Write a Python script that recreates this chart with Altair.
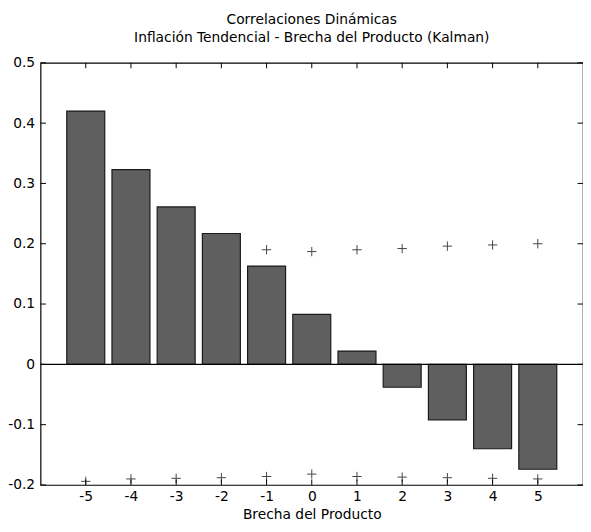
import altair as alt
import pandas as pd

# ---- data ----
lags = [-5, -4, -3, -2, -1, 0, 1, 2, 3, 4, 5]
corr = [0.420, 0.323, 0.261, 0.217, 0.163, 0.083, 0.022, -0.038, -0.092, -0.140, -0.174]
upper_lags = [-1, 0, 1, 2, 3, 4, 5]
upper_band = [0.190, 0.187, 0.190, 0.192, 0.196, 0.198, 0.200]
lower_band = [-0.194, -0.190, -0.189, -0.188, -0.186, -0.182, -0.186, -0.187, -0.188, -0.189, -0.190]
y_ticks = [-0.2, -0.1, 0.0, 0.1, 0.2, 0.3, 0.4, 0.5]

title_lines = ["Correlaciones Dinámicas",
               "Inflación Tendencial - Brecha del Producto (Kalman)"]
x_title = "Brecha del Producto"

FONT = "DejaVu Sans"
xs = alt.Scale(domain=[-6, 6], nice=False, zero=False)
ys = alt.Scale(domain=[-0.2, 0.5], nice=False, zero=False)

xaxis = alt.Axis(values=lags, format="d", title=x_title, ticks=False,
                 domain=False, grid=False, labelFontSize=14,
                 labelExpr="replace(datum.label, '\u2212', '-')",
                 labelPadding=5, titleFontSize=14, titleFontWeight="normal",
                 titlePadding=4, labelColor="black",
                 titleColor="black", labelFont=FONT, titleFont=FONT)
yaxis = alt.Axis(values=y_ticks, format=".1~f", title="", ticks=False,
                 domain=False, grid=False, labelFontSize=14,
                 labelExpr="replace(datum.label, '\u2212', '-')",
                 labelPadding=6, labelColor="black", labelFont=FONT)

bars_df = pd.DataFrame({"lag": lags, "corr": corr})
band_df = pd.concat([
    pd.DataFrame({"lag": upper_lags, "v": upper_band}),
    pd.DataFrame({"lag": lags, "v": lower_band}),
])

bars = alt.Chart(bars_df).transform_calculate(
    lo="datum.lag - 0.42", hi="datum.lag + 0.42", zero="0"
).mark_bar(color="#5f5f5f", stroke="#1a1a1a", strokeWidth=1.2).encode(
    x=alt.X("lo:Q", scale=xs, axis=xaxis, title=x_title),
    x2="hi:Q",
    y=alt.Y("zero:Q", scale=ys, axis=yaxis, title=""),
    y2="corr:Q",
)

zero_line = alt.Chart(pd.DataFrame({"v": [0.0]})).mark_rule(
    color="black", strokeWidth=1.2
).encode(y=alt.Y("v:Q", scale=ys, axis=yaxis, title=""))

markers = alt.Chart(band_df).mark_point(
    shape="M-1,0L1,0M0,-1L0,1", size=90, filled=False,
    stroke="#444444", strokeWidth=1, opacity=1
).encode(
    x=alt.X("lag:Q", scale=xs, axis=xaxis, title=x_title),
    y=alt.Y("v:Q", scale=ys, axis=yaxis, title=""),
)

# inward tick marks on all four sides
top_df = pd.DataFrame({"t": lags, "a": 0.5, "b": 0.5 - 0.009})
bot_df = pd.DataFrame({"t": lags, "a": -0.2, "b": -0.2 + 0.009})
left_df = pd.DataFrame({"t": y_ticks, "a": -6.0, "b": -6.0 + 0.12})
right_df = pd.DataFrame({"t": y_ticks, "a": 6.0, "b": 6.0 - 0.12})

def xticks(df):
    return alt.Chart(df).mark_rule(color="black", strokeWidth=1).encode(
        x=alt.X("t:Q", scale=xs, axis=xaxis, title=x_title),
        y=alt.Y("a:Q", scale=ys, axis=yaxis, title=""),
        y2="b:Q",
    )

def yticks(df):
    return alt.Chart(df).mark_rule(color="black", strokeWidth=1).encode(
        y=alt.Y("t:Q", scale=ys, axis=yaxis, title=""),
        x=alt.X("a:Q", scale=xs, axis=xaxis, title=x_title),
        x2="b:Q",
    )

chart = alt.layer(
    bars, zero_line, markers,
    xticks(top_df), xticks(bot_df), yticks(left_df), yticks(right_df)
).properties(
    width=550,
    height=428,
    padding={"left": 33, "top": 52, "right": 0, "bottom": 36},
    autosize=alt.AutoSizeParams(type="none"),
    background="white",
    title=alt.TitleParams(text=title_lines, fontSize=14, fontWeight="normal",
                          font=FONT, lineHeight=18, offset=11, anchor="middle",
                          color="black"),
).configure_view(stroke="black", strokeWidth=1.2)

chart.save("out.html", embed_options={"renderer": "svg", "actions": False})
